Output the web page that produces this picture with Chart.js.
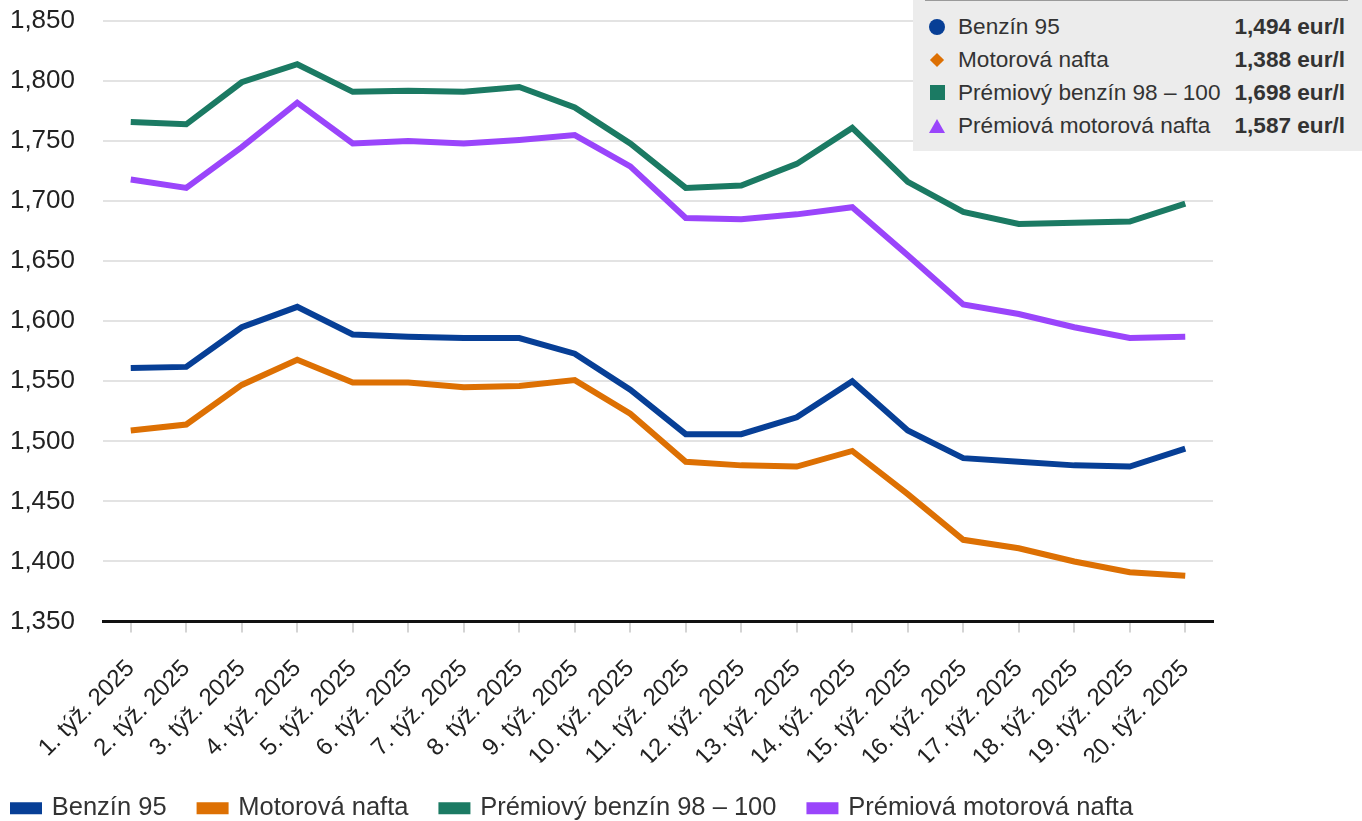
<!DOCTYPE html>
<html lang="sk">
<head>
<meta charset="utf-8">
<title>Ceny pohonných látok 2025</title>
<script src="https://cdn.jsdelivr.net/npm/chart.js@4.4.1/dist/chart.umd.min.js"></script>
<style>
  body{margin:0;background:#fff;font-family:"Liberation Sans",Arial,sans-serif;}
  #wrap{position:relative;width:1362px;height:821px;}
  #box{position:absolute;left:913px;top:0;width:449px;height:151px;background:#ececec;box-sizing:border-box;padding-top:10px;}
  #box .topline{position:absolute;left:12px;right:14px;top:0;height:1px;background:#9a9a9a;}
  #box .row{display:flex;align-items:center;height:33px;font-size:22.6px;color:#333;padding:0 17px 0 16px;}
  #box .mk{width:16px;height:16px;margin-right:13px;display:flex;align-items:center;justify-content:center;}
  #box .name{flex:1;white-space:nowrap;}
  #box .val{font-weight:bold;white-space:nowrap;}
</style>
</head>
<body>
<div id="wrap">
  <canvas id="c" width="1362" height="821"></canvas>
  <div id="box"><div class="topline"></div></div>
</div>
<script>
// kategórie (týždne)
const weeks = ['1. týž. 2025','2. týž. 2025','3. týž. 2025','4. týž. 2025','5. týž. 2025',
  '6. týž. 2025','7. týž. 2025','8. týž. 2025','9. týž. 2025','10. týž. 2025',
  '11. týž. 2025','12. týž. 2025','13. týž. 2025','14. týž. 2025','15. týž. 2025',
  '16. týž. 2025','17. týž. 2025','18. týž. 2025','19. týž. 2025','20. týž. 2025'];

// ceny v eur/l odčítané z grafu
const benzin95 = [1.561,1.562,1.595,1.612,1.589,1.587,1.586,1.586,1.573,1.543,
  1.506,1.506,1.520,1.550,1.509,1.486,1.483,1.480,1.479,1.494];
const nafta = [1.509,1.514,1.547,1.568,1.549,1.549,1.545,1.546,1.551,1.523,
  1.483,1.480,1.479,1.492,1.456,1.418,1.411,1.400,1.391,1.388];
const premBenzin = [1.766,1.764,1.799,1.814,1.791,1.792,1.791,1.795,1.778,1.748,
  1.711,1.713,1.731,1.761,1.716,1.691,1.681,1.682,1.683,1.698];
const premNafta = [1.718,1.711,1.745,1.782,1.748,1.750,1.748,1.751,1.755,1.729,
  1.686,1.685,1.689,1.695,1.655,1.614,1.606,1.595,1.586,1.587];

const seriesNames = ['Benzín 95','Motorová nafta','Prémiový benzín 98 – 100','Prémiová motorová nafta'];
const seriesColors = ['#073f96','#dd7003','#1b7a63','#9a45fb'];
const seriesMarkers = ['circle','diamond','square','triangle'];

// os y
const yMin = 1.35, yMax = 1.85, yStep = 0.05;

const fmt = v => v.toFixed(3).replace('.', ',');
const font = '"Liberation Sans", Arial, sans-serif';

const allSeries = [benzin95, nafta, premBenzin, premNafta];
const datasets = allSeries.map((d,i)=>({
  label: seriesNames[i],
  data: d,
  borderColor: seriesColors[i],
  backgroundColor: seriesColors[i],
  borderWidth: 6,
  pointRadius: 0,
  tension: 0
}));

new Chart(document.getElementById('c'), {
  type: 'line',
  data: { labels: weeks, datasets },
  options: {
    responsive: false,
    animation: false,
    layout: { padding: { top: 21, right: 149, left: -20, bottom: -10 } },
    plugins: {
      tooltip: { enabled: false },
      legend: {
        position: 'bottom',
        align: 'start',
        labels: {
          boxWidth: 26, boxHeight: 6, padding: 33,
          color: '#333',
          font: { family: font, size: 25.5 }
        }
      }
    },
    scales: {
      x: {
        offset: true,
        grid: { display: true, drawOnChartArea: false, drawTicks: true, tickLength: 11, color: '#d4d4d4', lineWidth: 2, offset: false },
        border: { display: true, color: '#111', width: 3 },
        ticks: {
          maxRotation: 45, minRotation: 45, autoSkip: false, padding: 22,
          color: '#222',
          font: { family: font, size: 24 }
        },
        afterFit: s => { s.height = 141; }
      },
      y: {
        min: yMin, max: yMax,
        grid: { color: '#e3e3e3', lineWidth: 2, drawTicks: false },
        border: { display: false },
        ticks: {
          stepSize: yStep, padding: 28,
          color: '#222',
          font: { family: font, size: 26 },
          callback: v => fmt(v)
        },
        afterFit: s => { s.width = 123; s.paddingTop = 0; s.paddingBottom = 0; }
      }
    }
  }
});

// legenda s poslednými hodnotami
const box = document.getElementById('box');
allSeries.forEach((d,i)=>{
  const row = document.createElement('div');
  row.className = 'row';
  const c = seriesColors[i];
  let mk = '';
  if (seriesMarkers[i]==='circle') mk = `<span style="width:16px;height:16px;border-radius:50%;background:${c}"></span>`;
  if (seriesMarkers[i]==='diamond') mk = `<span style="width:10px;height:10px;transform:rotate(45deg);background:${c}"></span>`;
  if (seriesMarkers[i]==='square') mk = `<span style="width:15px;height:15px;background:${c}"></span>`;
  if (seriesMarkers[i]==='triangle') mk = `<span style="width:0;height:0;border-left:8px solid transparent;border-right:8px solid transparent;border-bottom:14px solid ${c}"></span>`;
  row.innerHTML = `<span class="mk">${mk}</span><span class="name">${seriesNames[i]}</span><span class="val">${fmt(d[d.length-1])} eur/l</span>`;
  box.appendChild(row);
});
</script>
</body>
</html>
